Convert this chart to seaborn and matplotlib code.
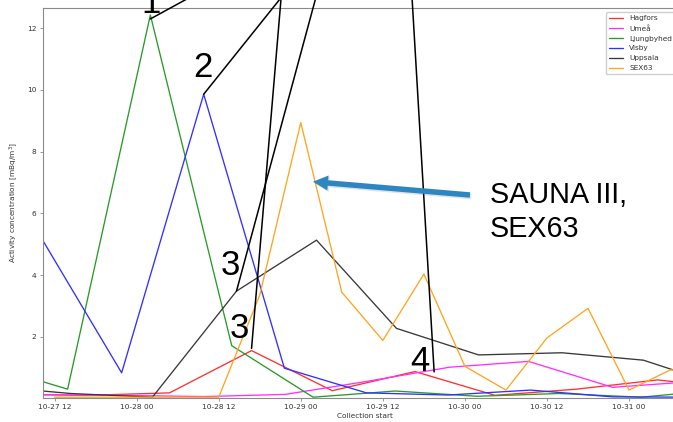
import pandas as pd
import matplotlib
matplotlib.use("Agg")
import matplotlib.pyplot as plt
import matplotlib.dates as mdates
import matplotlib.patheffects as pe
from matplotlib.patches import FancyArrow
from matplotlib.transforms import IdentityTransform
import seaborn as sns

YEAR = "2022"

stations = ["Hagfors", "Umeå", "Ljungbyhed", "Visby", "Uppsala", "SEX63"]
colors = ["#ff3030", "#ff30ff", "#2a9a2a", "#3030ff", "#383838", "#ffa520"]

# collection start (MM-DD HH:MM) and activity concentration [mBq/m3] per station
hagfors_times = ["10-27 10:18", "10-27 16:48", "10-28 04:48", "10-28 16:48", "10-29 04:36",
                 "10-29 16:42", "10-30 04:24", "10-30 16:18", "10-31 04:12", "10-31 16:12"]
hagfors_vals = [0.12, 0.10, 0.18, 1.55, 0.25, 0.87, 0.10, 0.30, 0.60, 0.30]

umea_times = ["10-27 10:18", "10-27 21:48", "10-28 09:48", "10-28 21:42", "10-29 09:36",
              "10-29 21:42", "10-30 09:18", "10-30 21:36", "10-31 09:36"]
umea_vals = [0.12, 0.10, 0.06, 0.13, 0.55, 1.01, 1.20, 0.36, 0.55]

ljungbyhed_times = ["10-27 10:18", "10-27 13:54", "10-28 02:00", "10-28 13:54", "10-29 01:48",
                    "10-29 13:48", "10-30 01:48", "10-30 13:48", "10-31 01:48", "10-31 13:48"]
ljungbyhed_vals = [0.54, 0.30, 12.43, 1.71, 0.04, 0.24, 0.07, 0.16, 0.04, 0.29]

visby_times = ["10-27 10:18", "10-27 21:48", "10-28 09:48", "10-28 21:36", "10-29 09:36",
               "10-29 21:30", "10-30 09:36", "10-30 21:36", "10-31 09:36"]
visby_vals = [5.11, 0.83, 9.86, 0.98, 0.18, 0.11, 0.27, 0.05, 0.04]

uppsala_times = ["10-27 10:18", "10-27 14:18", "10-28 02:18", "10-28 14:36", "10-29 02:18",
                 "10-29 14:00", "10-30 02:00", "10-30 14:12", "10-31 02:06", "10-31 14:06"]
uppsala_vals = [0.24, 0.16, 0.04, 3.48, 5.13, 2.27, 1.41, 1.48, 1.24, 0.37]

sex63_times = ["10-27 12:00", "10-27 18:00", "10-28 00:00", "10-28 06:00", "10-28 12:00",
               "10-28 18:00", "10-29 00:00", "10-29 06:00", "10-29 12:00", "10-29 18:00",
               "10-30 00:00", "10-30 06:00", "10-30 12:00", "10-30 18:00", "10-31 00:00",
               "10-31 06:00", "10-31 12:00"]
sex63_vals = [0.04, 0.04, 0.04, 0.04, 0.04, 3.35, 8.94, 3.44, 1.88, 4.03,
              1.04, 0.27, 1.96, 2.92, 0.27, 0.92, 1.00]

y_ticks = [2, 4, 6, 8, 10, 12]


def station_frame(name, times, values):
    return pd.DataFrame({
        "station": name,
        "start": pd.to_datetime([f"{YEAR}-{t}" for t in times]),
        "conc": values,
    })


df = pd.concat([
    station_frame("Hagfors", hagfors_times, hagfors_vals),
    station_frame("Umeå", umea_times, umea_vals),
    station_frame("Ljungbyhed", ljungbyhed_times, ljungbyhed_vals),
    station_frame("Visby", visby_times, visby_vals),
    station_frame("Uppsala", uppsala_times, uppsala_vals),
    station_frame("SEX63", sex63_times, sex63_vals),
], ignore_index=True)

sns.set_style("ticks")
plt.rcParams["font.family"] = ["DejaVu Sans"]

W, H = 673, 422
fig = plt.figure(figsize=(W / 100, H / 100), dpi=100)
ax = fig.add_axes([43 / W, (H - 397.5) / H, (686 - 43) / W, (397.5 - 8.3) / H])

sns.lineplot(data=df, x="start", y="conc", hue="station", hue_order=stations,
             palette=colors, estimator=None, sort=True, lw=0.95, ax=ax)

ax.set_xlim(df["start"].min(), pd.Timestamp(f"{YEAR}-10-31 08:20"))
ax.set_ylim(0.03, 12.645)
ax.set_yticks(y_ticks)
ax.xaxis.set_major_locator(mdates.HourLocator(byhour=[0, 12]))
ax.xaxis.set_major_formatter(mdates.DateFormatter("%m-%d %H"))

txt = "#333333"
ax.tick_params(axis="both", labelsize=5.3, length=2.5, width=0.6, pad=2.2,
               colors="#888888", labelcolor=txt)
for s in ax.spines.values():
    s.set_color("#8a8a8a")
    s.set_linewidth(0.8)

ax.set_xlabel("Collection start", fontsize=5.3, color=txt, labelpad=2)
ax.set_ylabel("Activity concentration [mBq/m$^3$]", fontsize=5.3, color=txt, labelpad=5)

handles, labels = ax.get_legend_handles_labels()
leg = ax.legend(handles, labels, loc="upper left",
                bbox_to_anchor=(605.7 / W, (H - 12.3) / H), bbox_transform=fig.transFigure,
                borderaxespad=0, fontsize=5.3, frameon=True, fancybox=True,
                edgecolor="#d0d0d0", framealpha=1, borderpad=0.4, labelspacing=0.5,
                handlelength=2.0, handletextpad=0.8)
for t in leg.get_texts():
    t.set_color(txt)

# call-out lines from the numbered labels down to the curves
def callout(ts, value, top_x, top_y):
    ax.annotate("", xy=(mdates.date2num(pd.Timestamp(f"{YEAR}-{ts}")), value), xycoords="data",
                xytext=(top_x, H - top_y), textcoords="figure pixels",
                arrowprops=dict(arrowstyle="-", color="black", lw=1.1, shrinkA=0, shrinkB=0),
                annotation_clip=False)


callout("10-28 02:00", 12.30, 190.5, -3)
callout("10-28 09:48", 9.86, 280, -1)
callout("10-28 16:48", 1.62, 281, -1)
callout("10-28 14:36", 3.48, 316, -3)
callout("10-29 19:30", 0.86, 412, -3)

ann_font = dict(family="Liberation Sans", fontsize=25, color="black", ha="center", va="baseline")
for label, x, y in [("1", 151.5, 13), ("2", 203, 77), ("3", 230, 275), ("3", 239, 338), ("4", 420, 371)]:
    fig.text(x / W, (H - y) / H, label, **ann_font)

big_font = dict(family="Liberation Sans", fontsize=20.7, color="black", ha="left", va="baseline")
fig.text(490 / W, (H - 203.3) / H, "SAUNA III,", **big_font)
fig.text(490 / W, (H - 237.3) / H, "SEX63", **big_font)

arrow = FancyArrow(470, H - 195, 313 - 470, (H - 181.7) - (H - 195), width=5.5,
                   head_width=15, head_length=15, length_includes_head=True,
                   facecolor="#2e86c1", edgecolor="none", lw=0, transform=IdentityTransform())
arrow.set_path_effects([pe.SimplePatchShadow(offset=(1.0, -1.2), alpha=0.12), pe.Normal()])
fig.add_artist(arrow)

fig.savefig("out.png", dpi=100)
